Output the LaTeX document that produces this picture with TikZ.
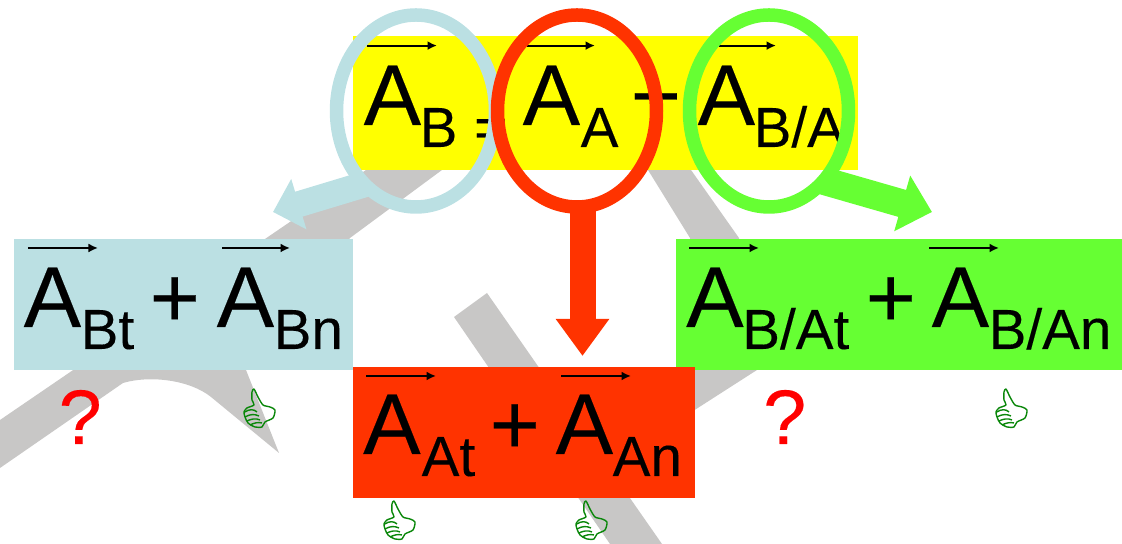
\documentclass[tikz,border=0pt]{standalone}
\usepackage{xcolor}
\usepackage{fontspec}
\setmainfont{Liberation Sans}[FakeBold=0.2]
\usetikzlibrary{arrows.meta,shapes.geometric}
\definecolor{sumyellow}{RGB}{255,255,0}
\definecolor{pointblue}{RGB}{187,224,227}
\definecolor{pointred}{RGB}{255,51,0}
\definecolor{relgreen}{RGB}{102,255,51}
\definecolor{markgray}{RGB}{200,199,198}
\definecolor{thumbgreen}{RGB}{10,135,10}
\tikzset{
  bigterm/.style={anchor=base west, inner sep=0pt, font=\fontsize{24.5pt}{24.5pt}\selectfont},
  subterm/.style={anchor=base west, inner sep=0pt, font=\fontsize{16.1pt}{16.1pt}\selectfont},
  askmark/.style={anchor=base west, inner sep=0pt, text=red, font=\fontsize{22pt}{22pt}\selectfont},
  vecarrow/.style={line width=0.019cm, -{Latex[length=0.095cm,width=0.09cm]}},
  loop/.style={ellipse, draw=#1, line width=0.135cm, inner sep=0pt, outer sep=0pt, minimum width=1.59cm, minimum height=1.92cm},
  termbox/.style={fill=#1},
  thumbup/.pic={
    \draw[thumbgreen, line width=0.014cm, x=0.01cm, y=-0.01cm, line join=round]
      plot[smooth cycle, tension=0.45] coordinates {(10,1) (8,4) (8,12) (10,17) (3,20) (0,24) (1,29) (4,35)
        (11,39) (18,39) (21,34) (29,30) (31,22) (26,19) (19,17) (14,9)};
    \draw[thumbgreen, line width=0.014cm, x=0.01cm, y=-0.01cm]
      (1,24) .. controls (5,21) and (10,21) .. (13,24)
      (1,29) .. controls (6,26) and (11,26) .. (15,28)
      (3,33) .. controls (7,31) and (12,30) .. (16,32)
      (6,37) .. controls (10,35) and (14,34) .. (18,35);
  }
}
\begin{document}
\begin{tikzpicture}[x=1cm,y=-1cm]
\useasboundingbox (0,0) rectangle (11.22,5.44);
% gray shapes behind
\fill[markgray] (0,4.20) -- (3.66,1.70) -- (4.42,1.70) -- (3.50,2.38) -- (2.46,3.70) -- (2.79,4.53) -- (2.11,3.97)
  .. controls (1.90,3.80) and (1.50,3.75) .. (1.23,3.83) -- (0,4.68) -- cycle;
\fill[markgray] (4.54,3.17) -- (4.87,2.93) -- (6.62,5.44) -- (6.10,5.44) -- cycle;
\fill[markgray] (6.48,1.70) -- (6.91,1.70) -- (7.39,2.38) -- (7.57,3.70) -- (6.90,4.13) -- (6.90,2.38) -- cycle;
% coloured boxes
\fill[termbox=sumyellow] (3.53,0.36) rectangle (8.58,1.70);
\fill[termbox=pointblue] (0.14,2.39) rectangle (3.53,3.70);
\fill[termbox=relgreen] (6.76,2.39) rectangle (11.22,3.70);
\fill[termbox=pointred] (3.53,3.67) rectangle (6.95,4.98);
% letters with subscript and vector arrow
\foreach \name/\xpos/\ypos/\xsub/\subtext/\xfrom/\xto/\yvec in {
  B/3.63/1.25/4.19/B/3.67/4.37/0.456,
  A/5.22/1.25/5.80/A/5.265/5.95/0.456,
  BA/6.97/1.25/7.53/{B/A}/7.19/7.76/0.456,
  Bt/0.23/3.27/0.80/Bt/0.28/0.98/2.48,
  Bn/2.16/3.27/2.73/Bn/2.22/2.90/2.48,
  At/3.625/4.54/4.21/At/3.66/4.36/3.76,
  An/5.55/4.54/6.12/An/5.61/6.31/3.76,
  BAt/6.855/3.27/7.416/{B/At}/6.89/7.59/2.48,
  BAn/9.31/3.27/9.88/{B/An}/9.29/9.99/2.48
} {
  \node[bigterm] (A\name) at (\xpos,\ypos) {A};
  \node[subterm] (S\name) at (\xsub,\ypos+0.22) {\subtext};
  \coordinate (Vs\name) at (\xfrom,\yvec);
  \coordinate (Ve\name) at (\xto,\yvec);
  \draw[vecarrow] (Vs\name) -- (Ve\name);
}
% signs
\node[subterm] (equal) at (4.735,1.47) {=};
\node[bigterm] (minus) at (6.30,1.25) {−};
\node[bigterm] (plusblue) at (1.49,3.27) {+};
\node[bigterm] (plusred) at (4.89,4.54) {+};
\node[bigterm] (plusgreen) at (8.65,3.27) {+};
\node[askmark] (askblue) at (0.58,4.44) {?};
\node[askmark] (askgreen) at (7.625,4.44) {?};
% thumbs
\foreach \xpos/\ypos in {2.44/3.88, 3.84/5.00, 5.76/5.00, 9.96/3.88} {
  \pic at (\xpos,\ypos) {thumbup};
}
% rings and thick arrows
\node[loop=pointblue] (ringblue) at (4.16,1.11) {};
\node[loop=pointred] (ringred) at (5.77,1.11) {};
\node[loop=relgreen] (ringgreen) at (7.69,1.11) {};
\coordinate (endblue) at (2.73,2.12);
\coordinate (endred) at (5.825,3.56);
\coordinate (endgreen) at (9.32,2.12);
\draw[pointblue, line width=0.26cm, -{Triangle[length=0.27cm,width=0.51cm]}] (ringblue.-125) -- (endblue);
\draw[pointred, line width=0.26cm, -{Triangle[length=0.37cm,width=0.51cm]}] (ringred.south -| endred) -- (endred);
\draw[relgreen, line width=0.28cm, -{Triangle[length=0.31cm,width=0.56cm]}] (ringgreen.-52) -- (endgreen);
\end{tikzpicture}
\end{document}
